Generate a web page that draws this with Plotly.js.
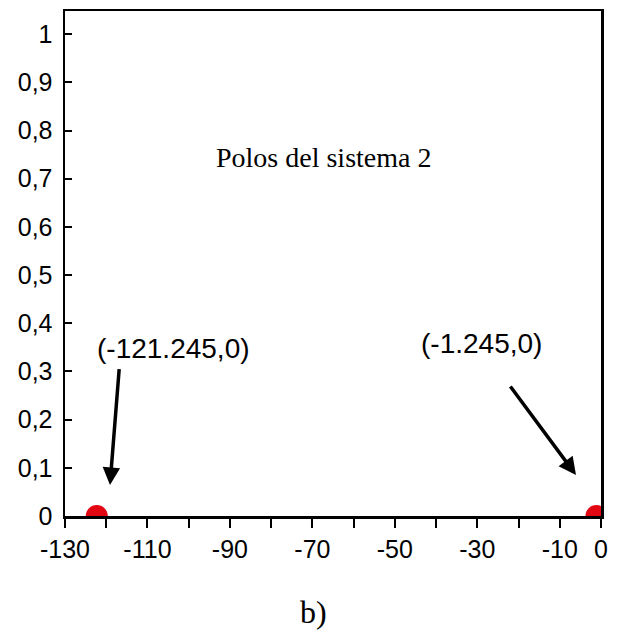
<!DOCTYPE html>
<html>
<head>
<meta charset="utf-8">
<script src="https://cdn.plot.ly/plotly-3.0.1.min.js"></script>
<style>html,body{margin:0;padding:0;background:#fff;}#chart{width:621px;height:635px;}</style>
</head>
<body>
<div id="chart"></div>
<script>
// Data
const poleRe = [-122.3, -1.1];
const poleIm = [0, 0];
const poleLabels = ["(-121.245,0)", "(-1.245,0)"];
const xTickVals = [-130, -120, -110, -100, -90, -80, -70, -60, -50, -40, -30, -20, -10, 0];
const xTickText = ["-130", "", "-110", "", "-90", "", "-70", "", "-50", "", "-30", "", "-10", "0"];
const yTickVals = [0, 0.1, 0.2, 0.3, 0.4, 0.5, 0.6, 0.7, 0.8, 0.9, 1];
const yTickText = ["0", "0,1", "0,2", "0,3", "0,4", "0,5", "0,6", "0,7", "0,8", "0,9", "1"];
const chartTitle = "Polos del sistema 2";
const caption = "b)";

const trace = {
  x: poleRe, y: poleIm, type: "scatter", mode: "markers",
  marker: {size: 22, color: "rgb(227,6,19)"},
  cliponaxis: true, hoverinfo: "skip", showlegend: false
};

const sans = "Liberation Sans, Arial, sans-serif";
const serif = "Liberation Serif, Times New Roman, serif";

const layout = {
  width: 621, height: 635,
  margin: {l: 65, r: 20, t: 11, b: 119},
  paper_bgcolor: "#fff", plot_bgcolor: "#fff",
  showlegend: false,
  xaxis: {
    range: [-130, 0], tickvals: xTickVals, ticktext: xTickText,
    ticks: "outside", ticklen: 9, tickwidth: 2, tickcolor: "#000",
    showline: true, linewidth: 2.5, linecolor: "#000", mirror: true,
    showgrid: false, zeroline: false,
    tickfont: {family: sans, size: 25, color: "#000"}
  },
  yaxis: {
    range: [0, 1.048], tickvals: yTickVals, ticktext: yTickText,
    ticks: "inside", ticklen: 7, tickwidth: 2, tickcolor: "#000",
    showline: true, linewidth: 2.5, linecolor: "#000", mirror: true,
    showgrid: false, zeroline: false, ticklabelstandoff: 5,
    tickfont: {family: sans, size: 25, color: "#000"}
  },
  annotations: [
    {x: -67.2, y: 0.745, xref: "x", yref: "y", text: chartTitle, showarrow: false,
     font: {family: serif, size: 28, color: "#000"}, xanchor: "center", yanchor: "middle"},
    {x: -103.6, y: 0.348, xref: "x", yref: "y", text: poleLabels[0], showarrow: false,
     font: {family: sans, size: 28, color: "#000"}, xanchor: "center", yanchor: "middle"},
    {x: -29.1, y: 0.358, xref: "x", yref: "y", text: poleLabels[1], showarrow: false,
     font: {family: sans, size: 28, color: "#000"}, xanchor: "center", yanchor: "middle"},
    {x: -119.09, y: 0.0644, ax: -116.83, ay: 0.3077, xref: "x", yref: "y", axref: "x", ayref: "y",
     text: "", showarrow: true, arrowhead: 2, arrowsize: 1, arrowwidth: 3.5, arrowcolor: "#000", standoff: 0},
    {x: -6.06, y: 0.085, ax: -22.24, ay: 0.272, xref: "x", yref: "y", axref: "x", ayref: "y",
     text: "", showarrow: true, arrowhead: 2, arrowsize: 1, arrowwidth: 3.5, arrowcolor: "#000", standoff: 0},
    {x: 0.4627, y: -0.19, xref: "paper", yref: "paper", text: caption, showarrow: false,
     font: {family: serif, size: 32, color: "#000"}, xanchor: "center", yanchor: "middle"}
  ]
};

Plotly.newPlot("chart", [trace], layout, {displayModeBar: false, staticPlot: true});
</script>
</body>
</html>
